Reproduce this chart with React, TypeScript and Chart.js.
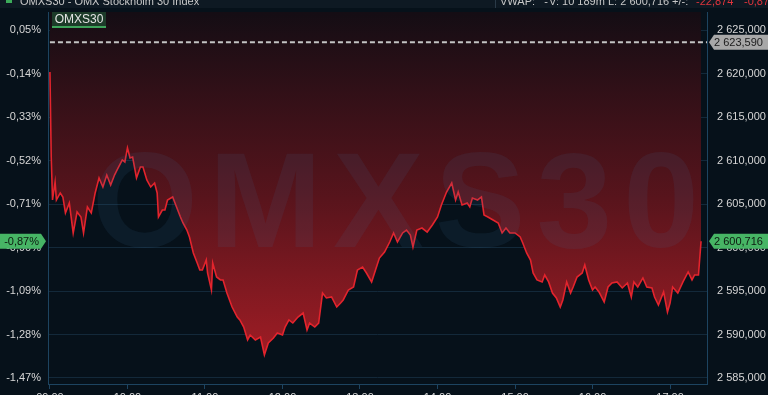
import React, { useEffect, useRef } from 'react';
import { Chart, registerables } from 'chart.js';
Chart.register(...registerables);

const REF_CLOSE = 2623.59;
const LAST = 2600.716;

// minutes after 09:00
const minutes = [
  0, 1, 2, 4, 5, 8, 10, 12, 15, 18,
  21, 24, 26, 29, 32, 35, 38, 41, 44, 47,
  50, 52, 56, 58, 60, 62, 64, 67, 70, 72,
  75, 78, 81, 83, 84, 87, 89, 91, 95, 98,
  101, 103, 106, 108, 111, 114, 116, 118, 121, 122,
  125, 126, 129, 132, 134, 137, 141, 145, 147, 150,
  153, 155, 159, 163, 166, 169, 173, 176, 180, 182,
  185, 188, 192, 196, 199, 201, 205, 208, 211, 214,
  218, 222, 225, 227, 231, 235, 238, 242, 245, 249,
  252, 255, 259, 263, 266, 269, 273, 276, 279, 281,
  284, 288, 292, 296, 300, 303, 307, 311, 314, 316,
  319, 323, 325, 327, 331, 334, 336, 339, 343, 347,
  350, 353, 356, 360, 364, 366, 369, 372, 374, 377,
  381, 383, 386, 389, 392, 395, 397, 400, 403, 405,
  408, 412, 414, 417, 420, 422, 425, 429, 432, 435,
  439, 443, 447, 450, 452, 455, 459, 462, 466, 468,
  471, 475, 478, 480, 482, 486, 490, 494, 497, 499,
  502, 504,
];

const prices = [
  2620.17, 2610.40, 2605.46, 2607.53, 2605.46, 2606.27, 2605.81, 2603.97, 2605.12, 2601.67,
  2604.08, 2603.51, 2601.67, 2604.66, 2603.97, 2606.27, 2607.99, 2606.95, 2608.33, 2607.18,
  2608.33, 2608.91, 2610.06, 2609.83, 2611.44, 2610.29, 2610.40, 2607.99, 2609.25, 2609.25,
  2607.76, 2606.95, 2607.41, 2606.27, 2603.51, 2604.31, 2604.31, 2605.46, 2605.81, 2604.66,
  2603.51, 2602.82, 2602.01, 2601.21, 2599.37, 2598.22, 2597.41, 2597.41, 2598.56, 2597.07,
  2595.12, 2598.22, 2596.61, 2596.27, 2596.27, 2594.77, 2593.16, 2592.01, 2591.67, 2590.86,
  2589.37, 2589.94, 2589.37, 2589.71, 2587.64, 2589.02, 2589.60, 2590.17, 2589.94, 2590.86,
  2591.67, 2591.32, 2592.01, 2592.47, 2590.52, 2591.32, 2590.86, 2591.32, 2594.77, 2594.20,
  2594.31, 2593.16, 2593.62, 2593.97, 2595.12, 2595.46, 2597.41, 2597.76, 2597.07, 2596.04,
  2597.41, 2598.79, 2599.48, 2600.63, 2601.67, 2600.63, 2601.67, 2602.01, 2601.44, 2600.06,
  2602.01, 2602.24, 2601.78, 2602.59, 2603.51, 2604.89, 2606.38, 2607.41, 2605.46, 2606.38,
  2604.89, 2605.12, 2604.66, 2605.69, 2605.46, 2605.81, 2603.74, 2603.51, 2603.16, 2602.82,
  2601.67, 2602.24, 2601.67, 2601.67, 2601.21, 2600.52, 2599.37, 2598.56, 2597.07, 2596.27,
  2596.04, 2596.84, 2596.04, 2594.77, 2594.20, 2593.16, 2593.97, 2596.04, 2594.77, 2595.46,
  2596.61, 2597.07, 2597.99, 2596.27, 2595.12, 2595.46, 2594.89, 2593.74, 2595.46, 2595.92,
  2596.04, 2595.35, 2595.92, 2594.31, 2596.04, 2595.46, 2596.50, 2595.46, 2595.35, 2594.31,
  2593.39, 2594.89, 2592.59, 2593.62, 2595.46, 2594.77, 2596.04, 2597.19, 2596.27, 2596.84,
  2596.84, 2600.716,
];

const priceTicks = [2585, 2590, 2595, 2600, 2605, 2610, 2615, 2620, 2625];
const hourTicks = [0, 60, 120, 180, 240, 300, 360, 420, 480];
const hourLabels = ['09:00', '10:00', '11:00', '12:00', '13:00', '14:00', '15:00', '16:00', '17:00'];

const headerLeft = 'OMXS30 - OMX Stockholm 30 Index';
const headerRight = ['VWAP:   -', 'V: 10 189m', 'L: 2 600,716', '+/-:'];
const headerChange = ['-22,874', '-0,87%'];

const X_MIN = -1.5;
const X_MAX = 508.6;
const Y_MIN = 2584.31;
const Y_MAX = 2627.07;

const BG = '#06111a';
const AXIS = '#1d4460';
const GRID = '#13293a';
const TEXT = '#d6d6d6';
const FONT = '"Liberation Sans", Arial, sans-serif';

function fmtPrice(v: number): string {
  const [i, d] = v.toFixed(3).split('.');
  return i.replace(/\B(?=(\d{3})+(?!\d))/g, ' ') + ',' + d;
}
function fmtPct(v: number): string {
  return ((v / REF_CLOSE - 1) * 100).toFixed(2).replace('.', ',') + '%';
}

function tagShape(c: CanvasRenderingContext2D, xTip: number, xEnd: number, yc: number, h: number, dir: number) {
  const hh = h / 2;
  c.beginPath();
  c.moveTo(xTip, yc);
  c.lineTo(xTip + dir * 5, yc - hh);
  c.lineTo(xEnd, yc - hh);
  c.lineTo(xEnd, yc + hh);
  c.lineTo(xTip + dir * 5, yc + hh);
  c.closePath();
}

const decor = {
  id: 'decor',
  beforeDraw(chart: any) {
    const c = chart.ctx as CanvasRenderingContext2D;
    c.save();
    c.fillStyle = BG;
    c.fillRect(0, 0, chart.width, chart.height);
    c.restore();
  },
  afterDatasetsDraw(chart: any) {
    const c = chart.ctx as CanvasRenderingContext2D;
    const a = chart.chartArea;
    c.save();
    c.beginPath();
    c.rect(a.left, a.top, a.right - a.left, a.bottom - a.top);
    c.clip();
    c.font = 'bold 136px ' + FONT;
    c.fillStyle = 'rgba(60,120,160,0.11)';
    c.textBaseline = 'alphabetic';
    c.textAlign = 'left';
    let x = 92;
    for (const ch of 'OMXS30') {
      c.fillText(ch, x, 247);
      x += c.measureText(ch).width + 11;
    }
    c.restore();
  },
  afterDraw(chart: any) {
    const c = chart.ctx as CanvasRenderingContext2D;
    const yS = chart.scales.y;
    c.save();
    // header strip (cut off at top)
    c.fillStyle = '#0e1923';
    c.fillRect(0, 0, chart.width, 8);
    c.strokeStyle = '#2a3a48';
    c.beginPath();
    c.moveTo(495.5, 0);
    c.lineTo(495.5, 8);
    c.stroke();
    c.fillStyle = '#3cab5a';
    c.fillRect(6, -3, 6, 6);
    c.font = '11px ' + FONT;
    c.textBaseline = 'alphabetic';
    c.textAlign = 'left';
    c.fillStyle = '#c8c8c8';
    c.fillText(headerLeft, 20, 5);
    const rx = [500, 549, 608, 672];
    headerRight.forEach((t, i) => c.fillText(t, rx[i], 5));
    c.fillStyle = '#e0343c';
    c.fillText(headerChange[0], 696, 5);
    c.fillText(headerChange[1], 744, 5);

    // series label
    c.fillStyle = '#1c3b29';
    c.fillRect(52, 12, 54, 15);
    c.fillStyle = '#3da35a';
    c.fillRect(52, 26, 54, 2);
    c.fillStyle = '#e4e4e4';
    c.font = '12px ' + FONT;
    c.textAlign = 'center';
    c.textBaseline = 'middle';
    c.fillText('OMXS30', 79, 19.5);

    // tags
    c.font = '11px ' + FONT;
    const yRef = yS.getPixelForValue(REF_CLOSE);
    const yLast = yS.getPixelForValue(LAST);
    tagShape(c, 709, 768, yRef, 15, 1);
    c.fillStyle = '#a8a8a8';
    c.fill();
    c.fillStyle = '#1b1b1b';
    c.textAlign = 'left';
    c.fillText(fmtPrice(REF_CLOSE), 714, yRef + 0.5);

    tagShape(c, 709, 768, yLast, 15, 1);
    c.fillStyle = '#47b565';
    c.fill();
    c.fillStyle = '#0d1a10';
    c.fillText(fmtPrice(LAST), 714, yLast + 0.5);

    tagShape(c, 46, 0, yLast, 15, -1);
    c.fillStyle = '#47b565';
    c.fill();
    c.fillStyle = '#0d1a10';
    c.textAlign = 'right';
    c.fillText(fmtPct(LAST), 39, yLast + 0.5);
    c.restore();
  },
};

export default function App() {
  const ref = useRef<HTMLCanvasElement | null>(null);
  useEffect(() => {
    document.body.style.margin = '0';
    document.body.style.background = BG;
    const canvas = ref.current!;
    const points = minutes.map((m, i) => ({ x: m, y: prices[i] }));
    const chart = new Chart(canvas, {
      type: 'line',
      data: {
        datasets: [
          {
            data: points,
            yAxisID: 'y',
            order: 2,
            borderColor: '#e3242d',
            borderWidth: 1.6,
            pointRadius: 0,
            tension: 0,
            fill: 'end',
            backgroundColor: (ctx: any) => {
              const { chart } = ctx;
              const area = chart.chartArea;
              if (!area) return 'rgba(0,0,0,0)';
              const g = chart.ctx.createLinearGradient(0, area.top, 0, area.bottom);
              g.addColorStop(0, 'rgb(20,13,20)');
              g.addColorStop(0.5, 'rgb(88,20,28)');
              g.addColorStop(1, 'rgb(172,30,38)');
              return g;
            },
          },
          {
            data: [
              { x: 0, y: REF_CLOSE },
              { x: X_MAX, y: REF_CLOSE },
            ],
            yAxisID: 'y',
            order: 1,
            borderColor: '#c4c4c4',
            borderWidth: 2,
            borderDash: [5, 3],
            pointRadius: 0,
            fill: false,
          },
        ],
      },
      options: {
        animation: false,
        responsive: false,
        maintainAspectRatio: false,
        layout: { padding: { top: 12, left: 0, right: 0, bottom: 0 } },
        plugins: { legend: { display: false }, tooltip: { enabled: false } },
        scales: {
          x: {
            type: 'linear',
            min: X_MIN,
            max: X_MAX,
            afterBuildTicks: (s: any) => {
              s.ticks = hourTicks.map((v) => ({ value: v }));
            },
            afterFit: (s: any) => {
              s.height = 26;
              s.paddingLeft = 0;
              s.paddingRight = 0;
            },
            grid: { drawOnChartArea: false, drawTicks: true, tickLength: 5, color: AXIS },
            border: { color: AXIS },
            ticks: {
              autoSkip: false,
              maxRotation: 0,
              padding: 2,
              color: TEXT,
              font: { family: FONT, size: 11 },
              callback: (v: any) => hourLabels[hourTicks.indexOf(Number(v))] ?? '',
            },
          },
          yL: {
            type: 'linear',
            position: 'left',
            min: Y_MIN,
            max: Y_MAX,
            afterBuildTicks: (s: any) => {
              s.ticks = priceTicks.map((v) => ({ value: v }));
            },
            afterFit: (s: any) => {
              s.width = 48;
              s.paddingTop = 0;
              s.paddingBottom = 0;
            },
            grid: { drawOnChartArea: false, drawTicks: false },
            border: { color: AXIS },
            ticks: {
              padding: 7,
              color: TEXT,
              font: { family: FONT, size: 11 },
              callback: (v: any) => fmtPct(Number(v)),
            },
          },
          y: {
            type: 'linear',
            position: 'right',
            min: Y_MIN,
            max: Y_MAX,
            afterBuildTicks: (s: any) => {
              s.ticks = priceTicks.map((v) => ({ value: v }));
            },
            afterFit: (s: any) => {
              s.width = 61;
              s.paddingTop = 0;
              s.paddingBottom = 0;
            },
            grid: { color: GRID, drawTicks: false },
            border: { color: AXIS },
            ticks: {
              padding: 10,
              color: TEXT,
              font: { family: FONT, size: 11 },
              callback: (v: any) => fmtPrice(Number(v)),
            },
          },
        },
      },
      plugins: [decor],
    } as any);
    return () => chart.destroy();
  }, []);
  return (
    <div style={{ position: 'fixed', left: 0, top: 0, width: 768, height: 395, overflow: 'hidden', background: BG }}>
      <canvas ref={ref} width={768} height={410} style={{ display: 'block', width: 768, height: 410 }} />
    </div>
  );
}
